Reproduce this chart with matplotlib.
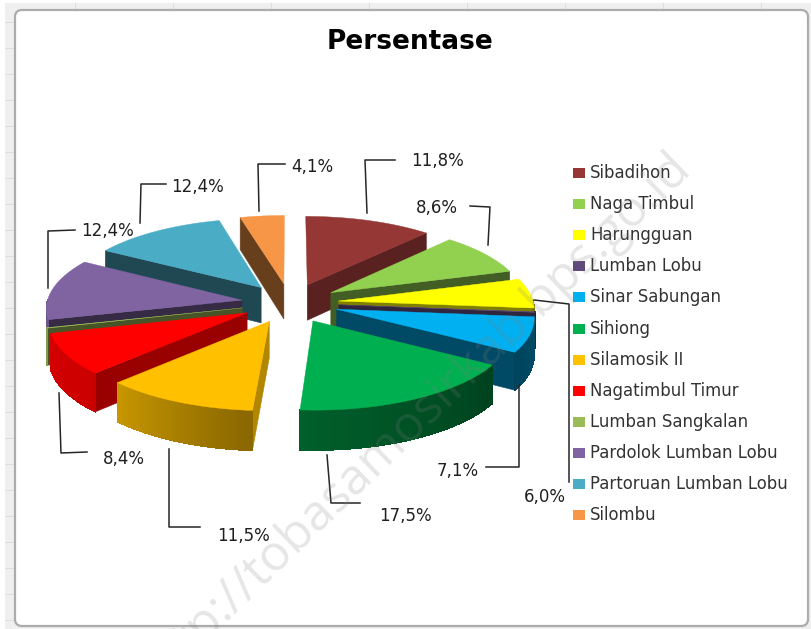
import matplotlib
matplotlib.use("Agg")
import matplotlib.pyplot as plt
import numpy as np
from matplotlib.patches import FancyBboxPatch, Polygon, Rectangle

categories = ["Sibadihon", "Naga Timbul", "Harungguan", "Lumban Lobu", "Sinar Sabungan", "Sihiong",
              "Silamosik II", "Nagatimbul Timur", "Lumban Sangkalan", "Pardolok Lumban Lobu",
              "Partoruan Lumban Lobu", "Silombu"]
values = [11.8, 8.6, 6.0, 0.1, 7.1, 17.5, 11.5, 8.4, 0.1, 12.4, 12.4, 4.1]
value_labels = ["11,8%", "8,6%", "6,0%", "7,1%", "17,5%", "11,5%", "8,4%", "12,4%", "12,4%", "4,1%"]
colors = ["#953735", "#92D050", "#FFFF00", "#604A7B", "#00B0F0", "#00B050",
          "#FFC000", "#FF0000", "#9BBB59", "#8064A2", "#4BACC6", "#F79646"]
wall_shades = [0.6, 0.45, 0.5, 0.5, 0.42, 0.45, 0.7, 0.6, 0.45, 0.42, 0.42, 0.42]

# pie geometry in pixels
CX, CY = 290, 303
RX, RY = 195, 79
EXPLODE = 0.25
DEPTH = 36
PERSP = 0.09


def project(x, y, drop=0.0):
    # x to the right, y towards the viewer, front of the pie looks bigger
    p = 1 + PERSP * y
    return CX + RX * x * p, CY + RY * y * p + drop * p


def shade(color, f):
    rgb = np.array(matplotlib.colors.to_rgb(color))
    return tuple(rgb * f)


def quad(ax, a, b, color, z, smooth=True):
    # wall hanging under the top edge a-b
    pts = [project(*a), project(*b), project(*b, DEPTH), project(*a, DEPTH)]
    ax.add_patch(Polygon(pts, closed=True, facecolor=color, edgecolor=color, linewidth=0.4,
                         antialiased=smooth, zorder=z))


def draw_wedge(ax, start, end, color, wall, z):
    mid = (start + end) / 2
    ox, oy = EXPLODE * np.sin(mid), -EXPLODE * np.cos(mid)
    th = np.linspace(start, end, max(int(np.degrees(end - start)), 2) + 1)
    xs = ox + np.sin(th)
    ys = oy - np.cos(th)

    if np.sin(start) < 0:
        quad(ax, (ox, oy), (xs[0], ys[0]), shade(color, wall), z)
    if np.sin(end) > 0:
        quad(ax, (ox, oy), (xs[-1], ys[-1]), shade(color, wall), z)

    # outer wall, brightness follows the angle
    for i in range(len(th) - 1):
        if -np.cos((th[i] + th[i + 1]) / 2) > 0:
            deg = np.degrees((th[i] + th[i + 1]) / 2)
            f = np.interp(deg, [90, 124, 187, 228, 270], [0.45, 0.38, 0.55, 0.8, 0.85])
            quad(ax, (xs[i], ys[i]), (xs[i + 1], ys[i + 1]), shade(color, f), z, smooth=False)

    top = [project(ox, oy)] + [project(x, y) for x, y in zip(xs, ys)]
    ax.add_patch(Polygon(top, closed=True, facecolor=color, edgecolor=color, linewidth=0.3, zorder=z))


fig = plt.figure(figsize=(8.12, 6.29), dpi=100)
ax = fig.add_axes([0, 0, 1, 1])
ax.set_xlim(0, 812)
ax.set_ylim(629, 0)
ax.axis("off")

# sheet behind the chart
ax.add_patch(Rectangle((5, 3), 807, 626, facecolor="#efefef", edgecolor="none", zorder=0))
for gy in range(22, 629, 26):
    ax.plot([5, 15], [gy, gy], color="#dedede", lw=0.7, zorder=0.5)
for gx in range(75, 812, 98):
    ax.plot([gx, gx], [3, 10], color="#dedede", lw=0.7, zorder=0.5)
ax.add_patch(FancyBboxPatch((15, 10), 793, 616, boxstyle="round,pad=0,rounding_size=7",
                            facecolor="white", edgecolor="#acacac", linewidth=1.6, zorder=1))

ax.text(410, 42, "Persentase", ha="center", va="center", fontsize=19, fontweight="bold", color="black", zorder=5)

# angles run clockwise from the top
cum = np.cumsum([0] + values) / sum(values) * 2 * np.pi
order = sorted(range(len(values)), key=lambda i: -np.cos((cum[i] + cum[i + 1]) / 2))
for n, i in enumerate(order):
    draw_wedge(ax, cum[i], cum[i + 1], colors[i], wall_shades[i], 2 + n * 0.01)

# leader lines and labels, same order as value_labels
leaders = [
    [(367, 213), (365, 160), (395, 160)],
    [(488, 245), (490, 207), (470, 206)],
    [(534, 300), (569, 304), (569, 482)],
    [(519, 385), (519, 467), (486, 467)],
    [(327, 455), (331, 503), (360, 503)],
    [(169, 449), (169, 527), (200, 527)],
    [(59, 393), (61, 453), (87, 452)],
    [(48, 288), (48, 231), (75, 230)],
    [(140, 223), (141, 184), (166, 184)],
    [(259, 211), (258, 164), (285, 164)],
]
label_pos = [(411, 161), (416, 208), (524, 497), (437, 471), (379, 516), (217, 536), (103, 459), (81, 231), (171, 187), (291, 167)]
for line, pos, txt in zip(leaders, label_pos, value_labels):
    ax.plot([p[0] for p in line], [p[1] for p in line], color="#262626", lw=1.1, zorder=4)
    ax.text(pos[0], pos[1], txt, ha="left", va="center", fontsize=12, color="#1f1f1f", zorder=5)

# legend
for i, name in enumerate(categories):
    y = 173 + i * 31.1
    ax.add_patch(Rectangle((573, y - 5), 12, 10, facecolor=colors[i], edgecolor="none", zorder=4))
    ax.text(590, y, name, ha="left", va="center", fontsize=11.9, color="#333333", zorder=5)

# watermark over everything
ax.text(683, 160, "http://tobasamosirkab.bps.go.id", rotation=44, rotation_mode="anchor", ha="right", va="center",
        fontsize=36, family="Open Sans", color="#808080", alpha=0.2, zorder=6, clip_on=True)

fig.savefig("out.png", dpi=100)
